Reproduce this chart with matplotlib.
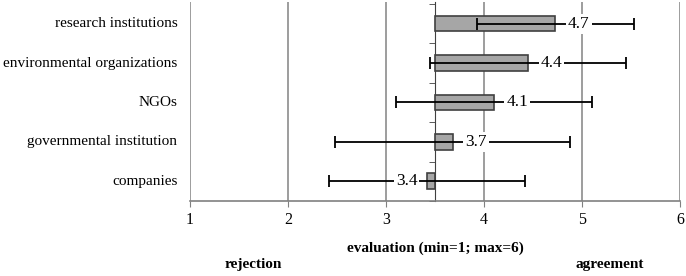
import matplotlib
matplotlib.use("Agg")
import matplotlib.pyplot as plt
from matplotlib.transforms import blended_transform_factory

categories = ["research institutions", "environmental organizations", "NGOs",
              "governmental institution", "companies"]
means = [4.73, 4.45, 4.10, 3.68, 3.42]
errors = [0.8, 1.0, 1.0, 1.2, 1.0]
labels = ["4.7", "4.4", "4.1", "3.7", "3.4"]
BASE = 3.5

plt.rcParams["font.family"] = ["Liberation Serif", "DejaVu Serif"]

fig = plt.figure(figsize=(6.86, 2.76), dpi=100)
ax = fig.add_axes([0.277, 0.272, 0.714, 0.721])

y = list(range(len(categories)))[::-1]
widths = [m - BASE for m in means]
ax.barh(y, widths, left=BASE, height=0.4, color="#a6a6a6",
        edgecolor="#404040", linewidth=1.2, zorder=3)
ax.errorbar(means, y, xerr=errors, fmt="none", ecolor="black",
            elinewidth=1.3, capsize=4, capthick=1.3, zorder=4)

for yi, m, lab in zip(y, means, labels):
    if m >= BASE:
        xt = m + 0.24
    else:
        xt = m - 0.21
    ax.text(xt, yi, lab, ha="center", va="center", fontsize=12.5, zorder=5,
            bbox=dict(facecolor="white", edgecolor="none", pad=1.5))

ax.set_xlim(1, 6)
ax.set_ylim(-0.5, 4.55)
ax.set_xticks([1, 2, 3, 4, 5, 6])
ax.tick_params(axis="x", labelsize=11.5, length=4, color="#808080", pad=4)
ax.xaxis.grid(True, color="#8c8c8c", linewidth=1.2, zorder=0)
ax.set_axisbelow(True)

for s in ["top", "right"]:
    ax.spines[s].set_visible(False)
ax.spines["bottom"].set_color("#808080")
ax.spines["bottom"].set_linewidth(1.2)
ax.spines["left"].set_position(("data", BASE))
ax.spines["left"].set_color("#404040")
ax.spines["left"].set_zorder(2)

ax.set_yticks(y)
ax.set_yticklabels([])
ax.tick_params(axis="y", which="major", length=0)
ax.set_yticks([v + 0.5 for v in range(-1, len(categories))], minor=True)
ax.tick_params(axis="y", which="minor", length=4, color="#404040")

trans = blended_transform_factory(ax.transAxes, ax.transData)
for yi, c in zip(y, categories):
    ax.text(-0.026, yi, c, transform=trans, ha="right", va="center", fontsize=11)

ax.set_xlabel("evaluation (min=1; max=6)", fontsize=11, fontweight="bold", labelpad=10)
fig.text(0.369, 0.04, "rejection", ha="center", va="center", fontsize=11, fontweight="bold")
fig.text(0.889, 0.04, "agreement", ha="center", va="center", fontsize=11, fontweight="bold")

fig.savefig("out.png")
